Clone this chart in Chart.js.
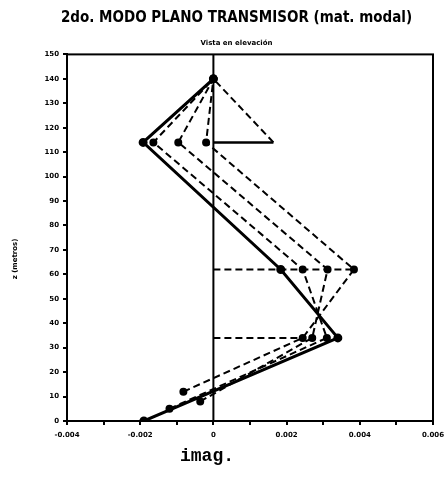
<!DOCTYPE html>
<html>
<head>
<meta charset="utf-8">
<script src="https://cdn.jsdelivr.net/npm/chart.js@4.4.1/dist/chart.umd.min.js"></script>
<style>
  html, body { margin: 0; padding: 0; background: #fff; }
  #wrap { width: 445px; height: 480px; }
</style>
</head>
<body>
<div id="wrap"><canvas id="myChart" width="445" height="480"></canvas></div>
<script>
// mode shapes, imaginary part (x) against height z
const zModeA = [0, 34, 62, 114, 140];
const xModeA = [-0.0019, 0.0034, 0.00184, -0.00192, 0];

const zModeB = [5, 34, 62, 114, 140];
const xModeB = [-0.0012, 0.0031, 0.00244, -0.00164, 0];

const zModeC = [8, 34, 62, 114, 140];
const xModeC = [-0.00036, 0.0027, 0.00312, -0.00096, 0];

const zModeD = [12, 34, 62, 114, 140];
const xModeD = [-0.00082, 0.00244, 0.00384, -0.0002, 0];

// tower outline
const zMast = [0, 150];
const xMast = [0, 0];
const zArmTop = [114, 114];
const xArmTop = [0, 0.00164];
const zBrace = [114, 140];
const xBrace = [0.00164, 0];
const zArmMid = [62, 62];
const xArmMid = [0, 0.00384];
const zArmLow = [34, 34];
const xArmLow = [0, 0.0024];

const xTicks = [-0.004, -0.002, 0, 0.002, 0.004, 0.006];
const xTickLabels = ['-0.004', '-0.002', '0', '0.002', '0.004', '0.006'];

const pts = (xs, zs) => xs.map((x, i) => ({ x: x, y: zs[i] }));

const line = (data, width, dash, radius) => ({
  data: data,
  showLine: true,
  borderColor: '#000',
  backgroundColor: '#000',
  borderWidth: width,
  borderDash: dash,
  pointRadius: radius,
  pointHoverRadius: radius,
  tension: 0
});

// box round the plot and the two axis titles
const frame = {
  id: 'frame',
  afterDraw(chart) {
    const a = chart.chartArea;
    const c = chart.ctx;
    c.save();
    c.strokeStyle = '#000';
    c.lineWidth = 2;
    c.strokeRect(a.left, a.top, a.right - a.left, a.bottom - a.top);

    c.fillStyle = '#000';
    c.textAlign = 'center';
    c.textBaseline = 'middle';
    c.font = 'bold 18px "Liberation Mono", "DejaVu Sans Mono", monospace';
    c.fillText('imag.', 207, 456);

    c.translate(15, 259);
    c.rotate(-Math.PI / 2);
    c.font = 'bold 7px "DejaVu Sans", sans-serif';
    c.fillText('z (metros)', 0, 0);
    c.restore();
  }
};

var ctx = document.getElementById('myChart').getContext('2d');
var chart = new Chart(ctx, {
  type: 'scatter',
  data: {
    datasets: [
      line(pts(xMast, zMast), 2, [], 0),
      line(pts(xArmTop, zArmTop), 2.5, [], 0),
      line(pts(xBrace, zBrace), 2, [7, 4], 0),
      line(pts(xArmMid, zArmMid), 2, [7, 4], 0),
      line(pts(xArmLow, zArmLow), 2, [7, 4], 0),
      line(pts(xModeA, zModeA), 3, [], 3),
      line(pts(xModeB, zModeB), 2, [7, 4], 3),
      line(pts(xModeC, zModeC), 2, [7, 4], 3),
      line(pts(xModeD, zModeD), 2, [7, 4], 3)
    ]
  },
  options: {
    responsive: false,
    animation: false,
    layout: { padding: { left: 40, right: 12, top: 0, bottom: 0 } },
    plugins: {
      legend: { display: false },
      tooltip: { enabled: false },
      title: {
        display: true,
        text: '2do. MODO PLANO TRANSMISOR (mat. modal)',
        color: '#000',
        font: { family: '"DejaVu Sans Condensed", "DejaVu Sans", sans-serif', size: 15, weight: 'bold' },
        padding: { top: 9, bottom: 12 }
      },
      subtitle: {
        display: true,
        text: 'Vista en elevación',
        color: '#000',
        font: { family: '"DejaVu Sans", sans-serif', size: 7, weight: 'bold' },
        padding: { top: 0, bottom: 7 }
      }
    },
    scales: {
      x: {
        type: 'linear',
        min: -0.004,
        max: 0.006,
        afterBuildTicks: (scale) => {
          const t = [];
          for (let i = 0; i <= 10; i++) t.push({ value: -0.004 + i * 0.001 });
          scale.ticks = t;
        },
        afterFit: (scale) => {
          scale.height = 59;
          scale.paddingLeft = 0;
          scale.paddingRight = 0;
        },
        ticks: {
          autoSkip: false,
          maxRotation: 0,
          color: '#000',
          padding: 6,
          font: { family: '"DejaVu Sans", sans-serif', size: 7, weight: 'bold' },
          callback: (v) => {
            const i = xTicks.findIndex((t) => Math.abs(t - v) < 1e-9);
            return i >= 0 ? xTickLabels[i] : '';
          }
        },
        grid: { drawOnChartArea: false, drawTicks: true, tickLength: 4, color: '#000', lineWidth: 2 },
        border: { color: '#000', width: 2 }
      },
      y: {
        type: 'linear',
        min: 0,
        max: 150,
        afterFit: (scale) => { scale.width = 27; },
        ticks: {
          stepSize: 10,
          color: '#000',
          padding: 4,
          font: { family: '"DejaVu Sans", sans-serif', size: 7, weight: 'bold' }
        },
        grid: { drawOnChartArea: false, drawTicks: true, tickLength: 4, color: '#000', lineWidth: 2 },
        border: { color: '#000', width: 2 }
      }
    }
  },
  plugins: [frame]
});
</script>
</body>
</html>
